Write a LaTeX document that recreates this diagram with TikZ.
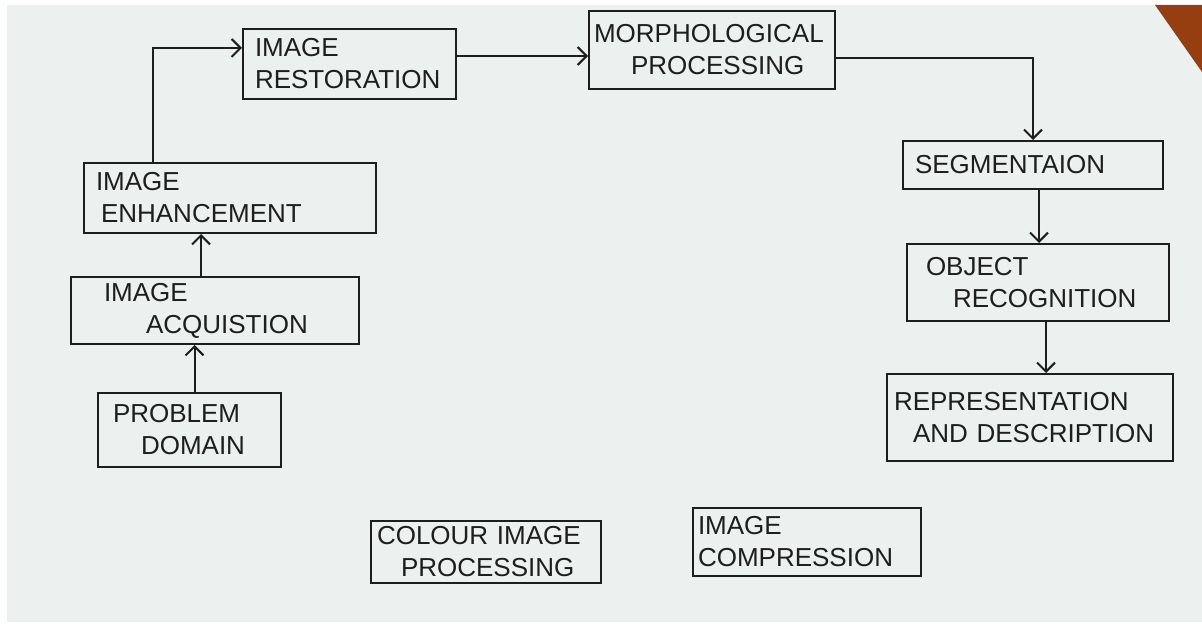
\documentclass[tikz,border=0pt]{standalone}
\usepackage{fontspec}
\setmainfont{Liberation Sans}
\usetikzlibrary{arrows.meta}
\definecolor{ink}{RGB}{30,30,30}
\definecolor{paper}{RGB}{236,240,238}
\definecolor{wood}{RGB}{150,62,16}
\begin{document}
\begin{tikzpicture}[x=1pt,y=-1pt,
    stage/.style={draw=ink,line width=2pt,anchor=north west,align=left,
        font=\fontsize{26}{32}\selectfont,text=ink},
    flow/.style={draw=ink,line width=2pt,-{Straight Barb[length=9pt,width=18pt]}}]
    \useasboundingbox (0,0) rectangle (1202,628);
    \fill [white] (0,0) rectangle (1202,628);
    \fill [paper] (7,5) rectangle (1202,622);
    \fill [wood] (1155,5) -- (1202,5) -- (1202,72) -- cycle;
    % upper row
    \node[stage,text width=189pt,inner xsep=12pt,minimum height=70pt] (restore) at (242,28) {IMAGE\\RESTORATION};
    \node[stage,text width=236pt,inner xsep=5pt,minimum height=78pt] (morph) at (588,10) {MORPHOLOGICAL\\\hspace*{37pt}PROCESSING};
    % right column
    \node[stage,text width=236pt,inner xsep=12pt,minimum height=48pt] (segment) at (902,140) {SEGMENTAION};
    \node[stage,text width=224pt,inner xsep=19pt,minimum height=77pt] (object) at (906,243) {OBJECT\\\hspace*{27pt}RECOGNITION};
    \node[stage,text width=272pt,inner xsep=7pt,minimum height=87pt] (repdesc) at (886,373) {REPRESENTATION\\\hspace*{19pt}AND DESCRIPTION};
    % left column
    \node[stage,text width=268pt,inner xsep=12pt,minimum height=70pt] (enhance) at (83,162) {IMAGE\\\hspace*{5pt}ENHANCEMENT};
    \node[stage,text width=222pt,inner xsep=33pt,minimum height=67pt] (acquire) at (70,276) {IMAGE\\\hspace*{42pt}ACQUISTION};
    \node[stage,text width=153pt,inner xsep=15pt,minimum height=74pt] (problem) at (97,392) {PROBLEM\\\hspace*{28pt}DOMAIN};
    % bottom row
    \node[stage,text width=218pt,inner xsep=6pt,minimum height=62pt] (colour) at (370,520) {COLOUR IMAGE\\\hspace*{24pt}PROCESSING};
    \node[stage,text width=218pt,inner xsep=5pt,minimum height=68pt] (compress) at (692,507) {IMAGE\\COMPRESSION};
    % arrows
    \draw[flow] ([xshift=5pt]problem.north) -- ([xshift=5pt]problem.north |- acquire.south);
    \draw[flow] ([xshift=-14pt]acquire.north) -- ([xshift=-14pt]acquire.north |- enhance.south);
    \draw[flow] ([xshift=-77pt]enhance.north) |- ([yshift=16pt]restore.west);
    \draw[flow] ([yshift=8pt]restore.east) -- ([yshift=8pt]restore.east -| morph.west);
    \draw[flow] ([yshift=-8pt]morph.east) -| (segment.north);
    \draw[flow] ([xshift=6pt]segment.south) -- ([xshift=6pt]segment.south |- object.north);
    \draw[flow] ([xshift=8pt]object.south) -- ([xshift=8pt]object.south |- repdesc.north);
\end{tikzpicture}
\end{document}
